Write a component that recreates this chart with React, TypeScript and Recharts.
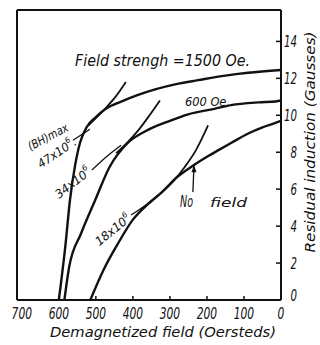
import React from 'react';
import { LineChart, Line, XAxis, YAxis, ReferenceLine, ReferenceDot } from 'recharts';

// demagnetization curves, h = demagnetizing field (Oe), b = residual induction (kG)
const field1500 = [
  { h: 0, b: 12.45 }, { h: 89, b: 12.3 }, { h: 150, b: 12.15 }, { h: 224, b: 11.9 },
  { h: 280, b: 11.7 }, { h: 340, b: 11.4 }, { h: 386, b: 11.1 }, { h: 430, b: 10.75 },
  { h: 473, b: 10.35 }, { h: 500, b: 9.9 }, { h: 525, b: 9.35 }, { h: 543, b: 8.5 },
  { h: 556, b: 7.3 }, { h: 570, b: 5.4 }, { h: 582, b: 3.0 }, { h: 600, b: 0 },
];
const field600 = [
  { h: 0, b: 10.8 }, { h: 14, b: 10.75 }, { h: 60, b: 10.7 }, { h: 135, b: 10.55 },
  { h: 180, b: 10.35 }, { h: 251, b: 10.05 }, { h: 300, b: 9.7 }, { h: 365, b: 9.15 },
  { h: 414, b: 8.5 }, { h: 463, b: 7.2 }, { h: 502, b: 5.4 }, { h: 540, b: 3.6 },
  { h: 572, b: 1.8 }, { h: 585, b: 0 },
];
const noField = [
  { h: 0, b: 9.7 }, { h: 13, b: 9.6 }, { h: 50, b: 9.35 }, { h: 90, b: 9.0 },
  { h: 135, b: 8.5 }, { h: 170, b: 8.1 }, { h: 200, b: 7.75 }, { h: 243, b: 7.2 },
  { h: 278, b: 6.7 }, { h: 324, b: 5.8 }, { h: 359, b: 5.2 }, { h: 400, b: 4.35 },
  { h: 439, b: 3.1 }, { h: 480, b: 1.6 }, { h: 515, b: 0 },
];

// (BH)max lines
const bh47 = [{ h: 419, b: 11.8 }, { h: 445, b: 11.05 }, { h: 473, b: 10.4 }, { h: 500, b: 9.85 }, { h: 520, b: 9.45 }];
const bh34 = [{ h: 327, b: 10.8 }, { h: 355, b: 10.0 }, { h: 385, b: 9.2 }, { h: 414, b: 8.55 }, { h: 445, b: 7.95 }];
const bh18 = [
  { h: 197, b: 9.45 }, { h: 230, b: 8.1 }, { h: 260, b: 7.2 }, { h: 290, b: 6.45 },
  { h: 320, b: 5.85 }, { h: 350, b: 5.35 }, { h: 380, b: 4.9 },
];

// label leaders
const leadBH = [{ h: 516, b: 9.24 }, { h: 562, b: 8.65 }];
const lead34 = [{ h: 432, b: 8.38 }, { h: 473, b: 7.73 }, { h: 511, b: 7.03 }];
const lead18 = [{ h: 351, b: 5.3 }, { h: 405, b: 4.6 }];
const arrowNoField = [{ h: 235, b: 7.3 }, { h: 238, b: 5.84 }];

const xTicks = [0, 100, 200, 300, 400, 500, 600, 700];
const yTicks = [0, 2, 4, 6, 8, 10, 12, 14];
const X_MAX = 713;
const Y_MAX = 15.7;

const INK = '#111';
const FONT = "'DejaVu Sans Condensed', 'Liberation Sans Narrow', 'DejaVu Sans', sans-serif";

const XTick = (props: any) => {
  const { x, y, payload } = props;
  const v = payload.value;
  const s = String(v);
  return (
    <g>
      {v !== 0 && v !== 700 && <line x1={x} x2={x} y1={y} y2={y - 4} stroke={INK} strokeWidth={1.5} />}
      <text x={x} y={y + 19} textAnchor="middle" fontFamily={FONT} fontStyle="italic" fontSize={15}
        fill={INK} textLength={6.8 * s.length} lengthAdjust="spacingAndGlyphs">{s}</text>
    </g>
  );
};

const YTick = (props: any) => {
  const { x, y, payload } = props;
  const v = payload.value;
  const s = String(v);
  return (
    <g>
      {v !== 0 && <line x1={x} x2={x - 5} y1={y} y2={y} stroke={INK} strokeWidth={1.5} />}
      <text x={x + 16} y={y + 6 - (v === 0 ? 5 : 0)} textAnchor="end" fontFamily={FONT} fontStyle="italic"
        fontSize={16} fill={INK} textLength={6.5 * s.length} lengthAdjust="spacingAndGlyphs">{s}</text>
    </g>
  );
};

const ArrowHead = (props: any) => {
  const { cx, cy } = props;
  return <polygon points={`${cx},${cy} ${cx - 2.5},${cy + 7} ${cx + 2.5},${cy + 7}`} fill={INK} />;
};

const curve = (data: any[], w = 2.4) => (
  <Line data={data} dataKey="b" type="monotone" stroke={INK} strokeWidth={w} dot={false} isAnimationActive={false} />
);

const tStyle = { fontFamily: FONT, fontStyle: 'italic' as const, fill: INK };

const Sup = ({ base, tail = '' }: { base: string; tail?: string }) => (
  <>
    <tspan>{base}</tspan>
    <tspan dy={-5} fontSize={8}>6</tspan>
    {tail && <tspan dy={5}>{tail}</tspan>}
  </>
);

export default function App() {
  return (
    <div style={{ position: 'absolute', left: 0, top: 0, width: 320, height: 345, background: '#fff' }}>
      <LineChart width={320} height={345} margin={{ top: 10, right: 0, bottom: 0, left: 17 }}>
        <XAxis dataKey="h" type="number" domain={[0, X_MAX]} reversed ticks={xTicks} allowDataOverflow
          height={45} tickSize={0} tickMargin={0} tickLine={false} tick={<XTick />}
          axisLine={{ stroke: INK, strokeWidth: 2 }} />
        <YAxis type="number" orientation="right" domain={[0, Y_MAX]} ticks={yTicks} allowDataOverflow
          width={39} tickSize={0} tickMargin={0} tickLine={false} tick={<YTick />}
          axisLine={{ stroke: INK, strokeWidth: 2 }} />
        <ReferenceLine y={Y_MAX} stroke={INK} strokeWidth={2} />
        <ReferenceLine x={X_MAX} stroke={INK} strokeWidth={2} />
        {curve(field1500)}
        {curve(field600)}
        {curve(noField)}
        {curve(bh47, 1.8)}
        {curve(bh34, 1.8)}
        {curve(bh18, 1.8)}
        {curve(leadBH, 1.3)}
        {curve(lead34, 1.3)}
        {curve(lead18, 1.3)}
        {curve(arrowNoField, 1.3)}
        <ReferenceDot x={235} y={7.3} r={0} shape={<ArrowHead />} />
      </LineChart>
      <svg width={320} height={345} style={{ position: 'absolute', left: 0, top: 0, pointerEvents: 'none' }}>
        <text x={75} y={66} fontSize={16} textLength={175} lengthAdjust="spacingAndGlyphs" {...tStyle}>
          Field strengh =1500 Oe.
        </text>
        <text x={185} y={106} fontSize={12} textLength={45} lengthAdjust="spacingAndGlyphs" {...tStyle}>
          600 Oe.
        </text>
        <text x={48} y={137} fontSize={12} textAnchor="middle" dominantBaseline="central" textLength={44}
          lengthAdjust="spacingAndGlyphs" transform="rotate(-28 48 137)" {...tStyle}>(BH)max</text>
        <text x={57} y={153} fontSize={12} textAnchor="middle" dominantBaseline="central" textLength={44}
          lengthAdjust="spacingAndGlyphs" transform="rotate(-34 57 153)" {...tStyle}>
          <Sup base="47x10" tail="." />
        </text>
        <text x={73} y={183} fontSize={12} textAnchor="middle" dominantBaseline="central" textLength={42}
          lengthAdjust="spacingAndGlyphs" transform="rotate(-38 73 183)" {...tStyle}>
          <Sup base="34x10" />
        </text>
        <text x={113} y={230} fontSize={12} textAnchor="middle" dominantBaseline="central" textLength={42}
          lengthAdjust="spacingAndGlyphs" transform="rotate(-39 113 230)" {...tStyle}>
          <Sup base="18x10" />
        </text>
        <text x={180} y={207} fontSize={15} textLength={13} lengthAdjust="spacingAndGlyphs" {...tStyle}>No</text>
        <text x={210} y={207} fontSize={13} textLength={37} lengthAdjust="spacingAndGlyphs" {...tStyle}>field</text>
        <text x={163} y={337} fontSize={14} textAnchor="middle" textLength={226} lengthAdjust="spacingAndGlyphs" {...tStyle}>
          Demagnetized field (Oersteds)
        </text>
        <text x={315} y={142} fontSize={14} textAnchor="middle" textLength={221} lengthAdjust="spacingAndGlyphs"
          transform="rotate(-90 315 142)" {...tStyle}>
          Residual induction (Gausses)
        </text>
      </svg>
    </div>
  );
}
